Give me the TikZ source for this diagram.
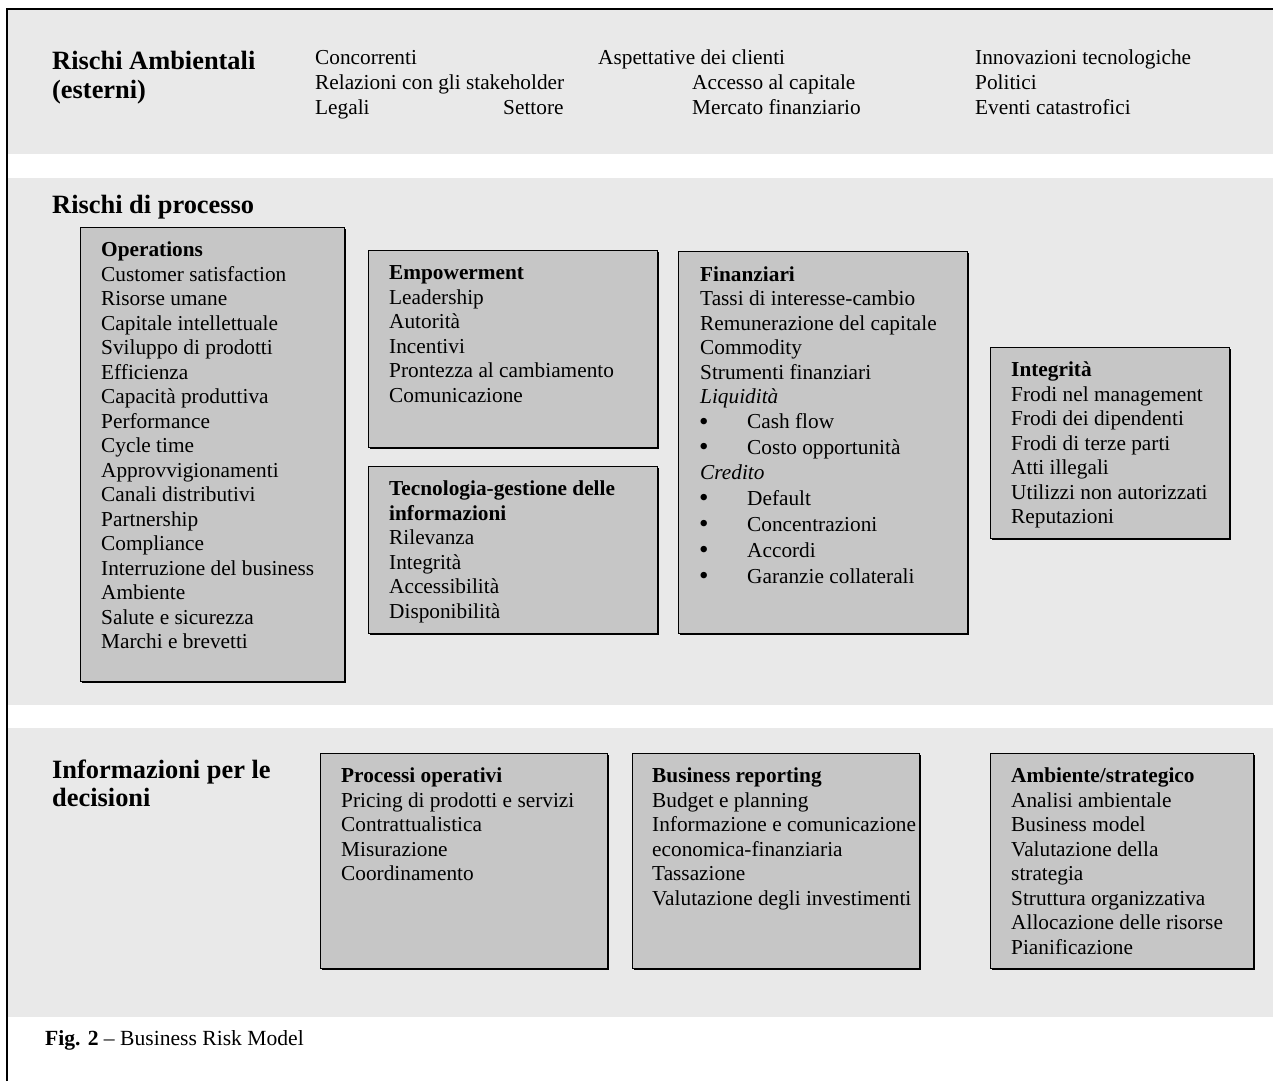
\documentclass[tikz,border=0pt]{standalone}
\usepackage{fontspec}
\setmainfont{Liberation Serif}
\usetikzlibrary{shadows}
\definecolor{bandgray}{HTML}{E9E9E9}
\definecolor{boxgray}{HTML}{C6C6C6}
\begin{document}
\begin{tikzpicture}[x=1pt,y=-1pt,
  band/.style={fill=bandgray, draw=none},
  riskbox/.style={draw=black, line width=1.3pt, fill=boxgray, anchor=north west,
    inner sep=0pt, drop shadow={shadow xshift=1.4pt, shadow yshift=-1.4pt, fill=black, opacity=1}},
  txt/.style={anchor=base west, inner sep=0pt, font=\fontsize{21.3}{24.5}\selectfont},
  ttl/.style={txt, font=\fontsize{21.3}{24.5}\selectfont\bfseries},
  head/.style={txt, font=\fontsize{26.4}{28}\selectfont\bfseries},
  figcaption/.style={txt, font=\fontsize{21.6}{24}\selectfont},
  bul/.style={txt, font=\fontsize{27}{27}\selectfont},
]
\useasboundingbox (0,0) rectangle (1273,1081);
\fill[white] (0,0) rectangle (1273,1081);

% background bands
\path[band] (7,9) rectangle (1273,154);
\path[band] (7,178) rectangle (1273,705);
\path[band] (7,728) rectangle (1273,1017);

% frame
\draw[line width=2pt] (7,1081) -- (7,9) -- (1273,9);

% external risks
\node[head] (h-amb1) at (52,70) {Rischi Ambientali};
\node[head] (h-amb2) at (52,98) {(esterni)};
\node[txt] (e-conc) at (315,64) {Concorrenti};
\node[txt] (e-asp)  at (598,64) {Aspettative dei clienti};
\node[txt] (e-inn)  at (975,64) {Innovazioni tecnologiche};
\node[txt] (e-rel)  at (315,89) {Relazioni con gli stakeholder};
\node[txt] (e-acc)  at (692,89) {Accesso al capitale};
\node[txt] (e-pol)  at (975,89) {Politici};
\node[txt] (e-leg)  at (315,114) {Legali};
\node[txt] (e-set)  at (503,114) {Settore};
\node[txt] (e-mer)  at (692,114) {Mercato finanziario};
\node[txt] (e-eve)  at (975,114) {Eventi catastrofici};

% process risks
\node[head] (h-proc) at (52,213) {Rischi di processo};

\node[riskbox, minimum width=264pt, minimum height=454pt] (ops) at (80,227) {};
\node[riskbox, minimum width=289pt, minimum height=197pt] (emp) at (368,250) {};
\node[riskbox, minimum width=289pt, minimum height=167pt] (tec) at (368,466) {};
\node[riskbox, minimum width=289pt, minimum height=382pt] (fin) at (678,251) {};
\node[riskbox, minimum width=239pt, minimum height=191pt] (int) at (990,347) {};

\path (ops.north west) ++(21,29.5) node[ttl] (ops-t) {Operations};
\foreach \t [count=\i] in {Customer satisfaction, Risorse umane, Capitale intellettuale,
  Sviluppo di prodotti, Efficienza, Capacità produttiva, Performance, Cycle time,
  Approvvigionamenti, Canali distributivi, Partnership, Compliance,
  Interruzione del business, Ambiente, Salute e sicurezza, Marchi e brevetti}
  \path (ops.north west) ++(21,{29.5+24.5*\i}) node[txt] (ops-\i) {\t};

\path (emp.north west) ++(21,29.5) node[ttl] (emp-t) {Empowerment};
\foreach \t [count=\i] in {Leadership, Autorità, Incentivi, Prontezza al cambiamento, Comunicazione}
  \path (emp.north west) ++(21,{29.5+24.5*\i}) node[txt] (emp-\i) {\t};

\path (tec.north west) ++(21,29.5) node[ttl] (tec-t1) {Tecnologia-gestione delle};
\path (tec.north west) ++(21,54) node[ttl] (tec-t2) {informazioni};
\foreach \t [count=\i] in {Rilevanza, Integrità, Accessibilità, Disponibilità}
  \path (tec.north west) ++(21,{54+24.5*\i}) node[txt] (tec-\i) {\t};

\path (fin.north west) ++(22,30)    node[ttl] (fin-t) {Finanziari};
\path (fin.north west) ++(22,54.5)  node[txt] (fin-1) {Tassi di interesse-cambio};
\path (fin.north west) ++(22,79)    node[txt] (fin-2) {Remunerazione del capitale};
\path (fin.north west) ++(22,103.5) node[txt] (fin-3) {Commodity};
\path (fin.north west) ++(22,128)   node[txt] (fin-4) {Strumenti finanziari};
\path (fin.north west) ++(22,152.5) node[txt] (fin-liq) {\itshape Liquidità};
\path (fin.north west) ++(22,228.5) node[txt] (fin-cred) {\itshape Credito};
\foreach \t/\y [count=\i] in {Cash flow/177.5, Costo opportunità/203, Default/254,
  Concentrazioni/280, Accordi/306, Garanzie collaterali/332} {
  \path (fin.north west) ++(21,{\y+1.5}) node[bul] (fin-b\i) {\textbullet};
  \path (fin.north west) ++(69,\y) node[txt] (fin-v\i) {\t};
}

\path (int.north west) ++(21,29.5) node[ttl] (int-t) {Integrità};
\foreach \t [count=\i] in {Frodi nel management, Frodi dei dipendenti, Frodi di terze parti,
  Atti illegali, Utilizzi non autorizzati, Reputazioni}
  \path (int.north west) ++(21,{29.5+24.5*\i}) node[txt] (int-\i) {\t};

% decision information
\node[head] (h-inf1) at (52,778) {Informazioni per le};
\node[head] (h-inf2) at (52,806) {decisioni};

\node[riskbox, minimum width=287pt, minimum height=215pt] (pro) at (320,753) {};
\node[riskbox, minimum width=287pt, minimum height=215pt] (bus) at (632,753) {};
\node[riskbox, minimum width=263pt, minimum height=215pt] (str) at (990,753) {};

\path (pro.north west) ++(21,29.5) node[ttl] (pro-t) {Processi operativi};
\foreach \t [count=\i] in {Pricing di prodotti e servizi, Contrattualistica, Misurazione, Coordinamento}
  \path (pro.north west) ++(21,{29.5+24.5*\i}) node[txt] (pro-\i) {\t};

\path (bus.north west) ++(20,29.5) node[ttl] (bus-t) {Business reporting};
\foreach \t [count=\i] in {Budget e planning, Informazione e comunicazione, economica-finanziaria,
  Tassazione, Valutazione degli investimenti}
  \path (bus.north west) ++(20,{29.5+24.5*\i}) node[txt] (bus-\i) {\t};

\path (str.north west) ++(21,29.5) node[ttl] (str-t) {Ambiente/strategico};
\foreach \t [count=\i] in {Analisi ambientale, Business model, Valutazione della, strategia,
  Struttura organizzativa, Allocazione delle risorse, Pianificazione}
  \path (str.north west) ++(21,{29.5+24.5*\i}) node[txt] (str-\i) {\t};

% caption
\node[figcaption] (caption) at (45,1045) {\textbf{Fig. 2} – Business Risk Model};
\end{tikzpicture}
\end{document}
